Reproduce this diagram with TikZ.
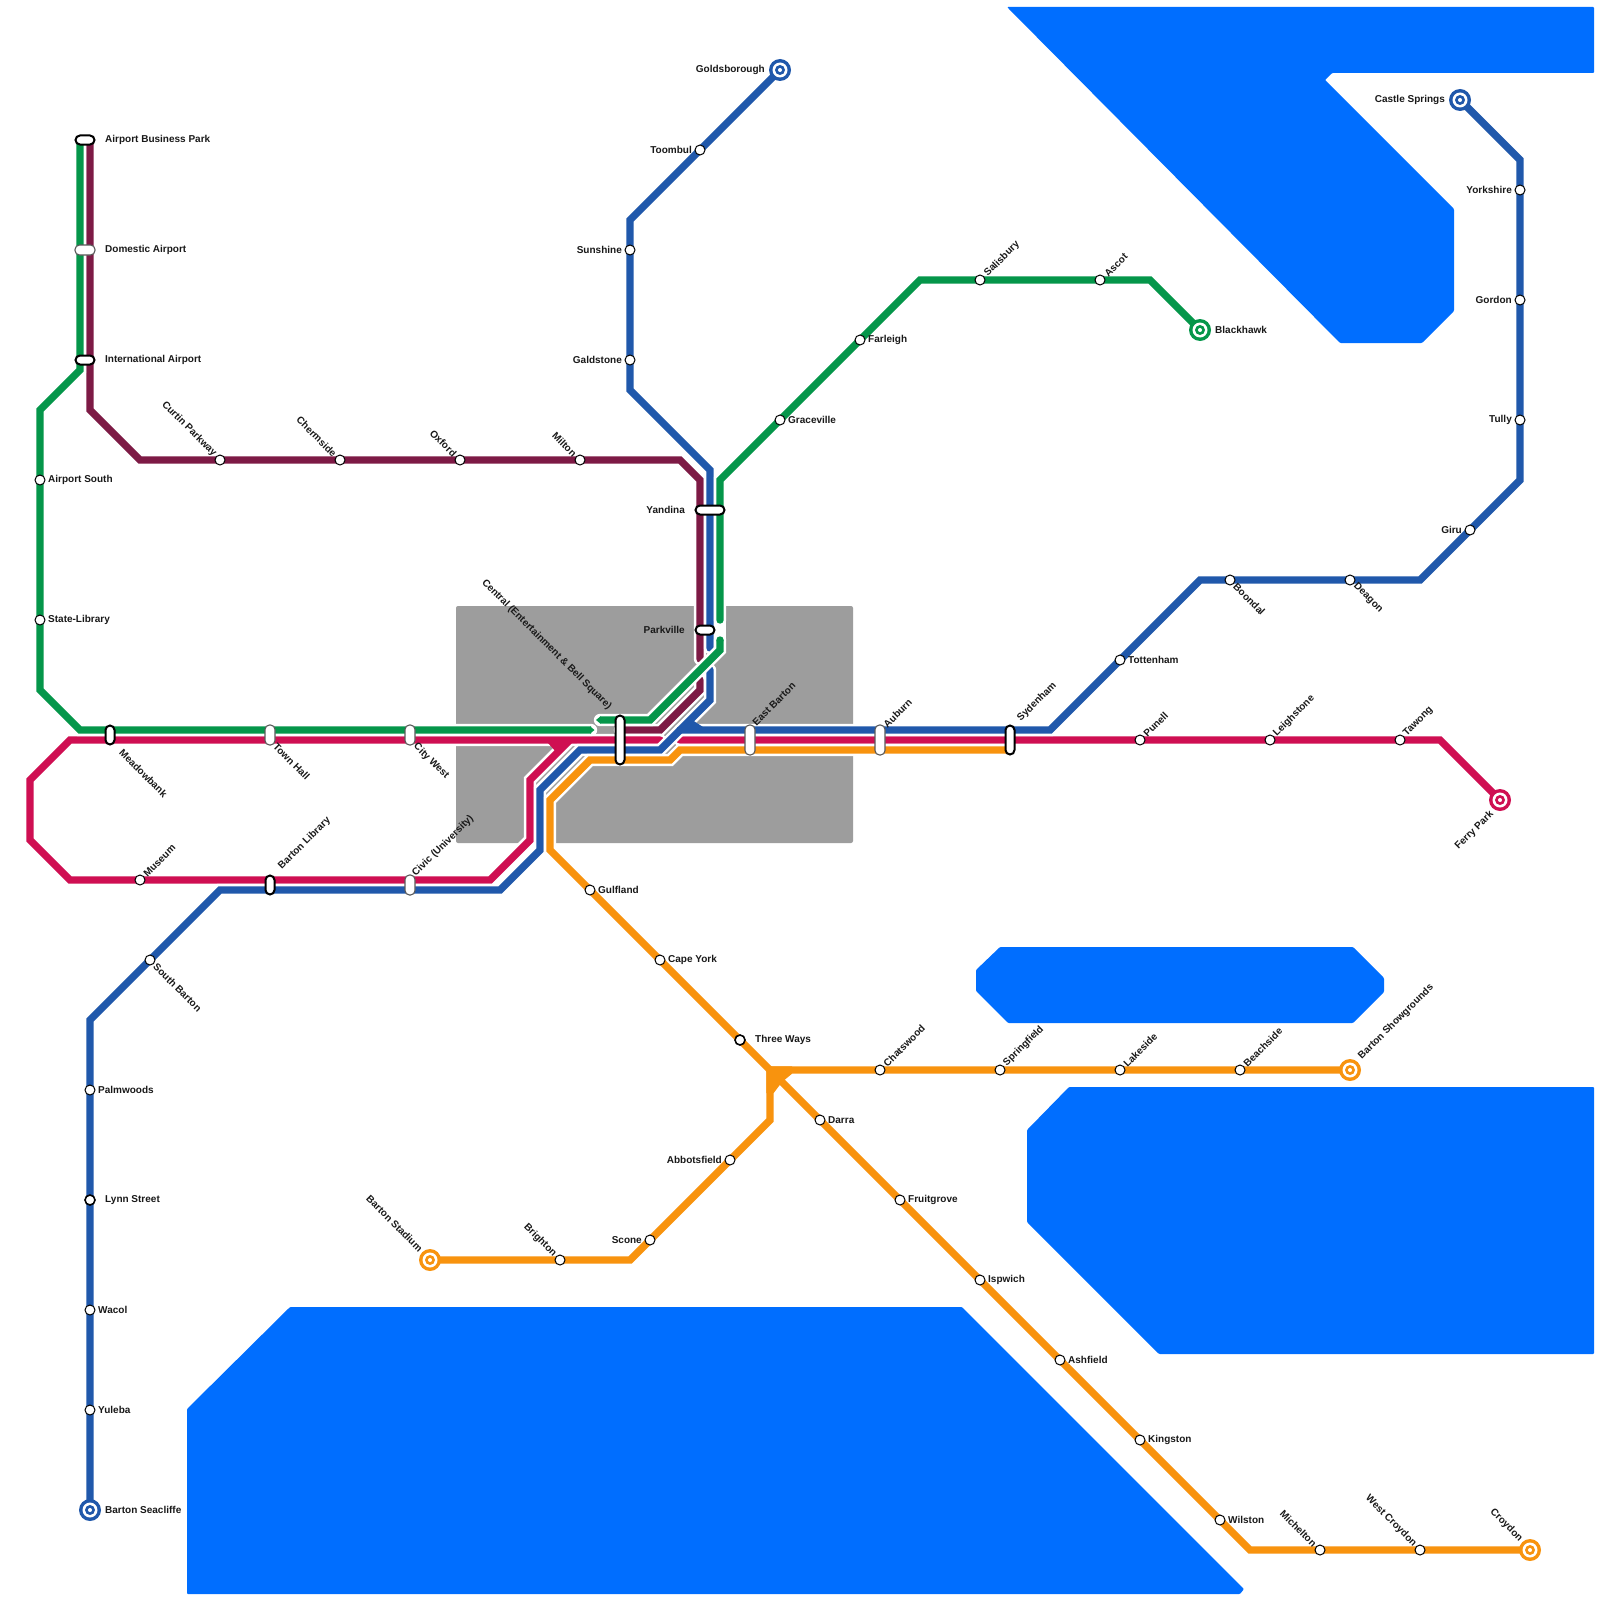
\documentclass[tikz,border=0pt]{standalone}
\usepackage{fontspec}
\setmainfont{Liberation Sans}
\definecolor{cgreen}{HTML}{05964A}
\definecolor{cpurple}{HTML}{7D1A45}
\definecolor{cblue}{HTML}{2058AB}
\definecolor{ccrim}{HTML}{CF0F52}
\definecolor{corange}{HTML}{F8930E}
\definecolor{cwater}{HTML}{006EFF}
\definecolor{cgrey}{HTML}{9D9D9D}
\tikzset{
  mcol/.style={draw=#1,line width=7.4pt,line cap=round,line join=miter},
  mcas/.style={draw=white,line width=12.4pt,line cap=round,line join=miter},
  mline/.style={mcol=#1,preaction={mcas}},
  water/.style={fill=cwater,rounded corners=1pt},
  stop/.style={circle,draw=black,fill=white,line width=1pt,minimum size=10pt,inner sep=0pt},
  stopb/.style={circle,draw=black,fill=white,line width=1.6pt,minimum size=10pt,inner sep=0pt},
  capb/.style={rectangle,draw=black,fill=white,line width=2pt,rounded corners=4.5pt,inner sep=0pt},
  capl/.style={rectangle,draw=black!65,fill=white,line width=1.1pt,rounded corners=4.5pt,inner sep=0pt},
  lbl/.style={font=\bfseries\fontsize{10}{12}\selectfont,inner sep=0pt,text=black!90},
  lr/.style={anchor=west},
  ll/.style={anchor=east},
  lur/.style={rotate=45,anchor=west},
  ldr/.style={rotate=-45,anchor=west},
  lul/.style={rotate=-45,anchor=east},
  ldl/.style={rotate=45,anchor=east},
}
% station: name, position
\newcommand{\stn}[2]{\node[stop] (#1) at (#2) {};}
\newcommand{\stb}[2]{\node[stopb] (#1) at (#2) {};}
% capsule: name, position, style, width, height
\newcommand{\cps}[5]{\node[#3,minimum width=#4pt,minimum height=#5pt] (#1) at (#2) {};}
% terminus ring: name (coordinate already defined), colour
\newcommand{\term}[2]{%
  \node[circle,fill=#2,minimum size=22pt,inner sep=0pt] (#1-o) at (#1) {};
  \node[circle,fill=white,minimum size=15pt,inner sep=0pt] (#1-w) at (#1) {};
  \node[circle,fill=#2,minimum size=10pt,inner sep=0pt] (#1-c) at (#1) {};
  \node[circle,fill=white,minimum size=4pt,inner sep=0pt] (#1-d) at (#1) {};}
% label: station, dx, dy, style, text
\newcommand{\lab}[5]{\path (#1) ++(#2,#3) node[lbl,#4] (#1-l) {#5};}
\begin{document}
\begin{tikzpicture}[x=1pt,y=-1pt]
\useasboundingbox (0,0) rectangle (1600,1600);
\fill[white] (0,0) rectangle (1600,1600);
% water
\fill[water] (1007,7) -- (1594,7) -- (1594,73) -- (1332,73) -- (1325,80) -- (1454,209) -- (1454,311) -- (1422,343) -- (1340,343) -- cycle;
\fill[water] (1000,947) -- (1353,947) -- (1384,978) -- (1384,992) -- (1353,1023) -- (1008,1023) -- (976,991) -- (976,970) -- cycle;
\fill[water] (1069,1087) -- (1594,1087) -- (1594,1354) -- (1159,1354) -- (1027,1222) -- (1027,1130) -- cycle;
\fill[water] (290,1307) -- (962,1307) -- (1244,1589) -- (1240,1594) -- (187,1594) -- (187,1409) -- cycle;
% built-up area
\fill[cgrey,rounded corners=2pt] (456,606) rectangle (853,843);
% named ends and bends
\coordinate (goldsborough) at (780,70);
\coordinate (seacliffe) at (90,1510);
\coordinate (castle) at (1460,100);
\coordinate (blackhawk) at (1200,330);
\coordinate (ferry) at (1500,800);
\coordinate (bstadium) at (430,1260);
\coordinate (bshow) at (1350,1070);
\coordinate (croydon) at (1530,1550);
\coordinate (tway) at (770,1070);
% purple
\draw[mline=cpurple] (90,140) -- (90,410) -- (140,460) -- (680,460) -- (700,480) -- (700,659);
\draw[mline=cpurple] (700,680) -- (700,690) -- (660,730) -- (620,730);
% crimson
\draw[mcas] (660,740) -- (70,740) -- (30,780) -- (30,840) -- (70,880) -- (490,880) -- (530,840) -- (530,780) -- (570,740);
\draw[mcol=ccrim] (660,740) -- (70,740) -- (30,780) -- (30,840) -- (70,880) -- (490,880) -- (530,840) -- (530,780) -- (570,740);
\fill[ccrim] (548,743) -- (556,752) -- (572,743) -- cycle;
\draw[mline=ccrim] (ferry) -- (1440,740) -- (680,740);
% blue
\draw[mcas] (goldsborough) -- (630,220) -- (630,390) -- (710,470) -- (710,648);
\draw[mcas] (710,670) -- (710,700) -- (660,750) -- (580,750) -- (540,790) -- (540,850) -- (500,890) -- (220,890) -- (90,1020) -- (seacliffe);
\draw[mcas] (castle) -- (1520,160) -- (1520,480) -- (1420,580) -- (1200,580) -- (1050,730) -- (680,730);
\draw[mcol=cblue] (goldsborough) -- (630,220) -- (630,390) -- (710,470) -- (710,648);
\draw[mcol=cblue] (710,670) -- (710,700) -- (660,750) -- (580,750) -- (540,790) -- (540,850) -- (500,890) -- (220,890) -- (90,1020) -- (seacliffe);
\draw[mcol=cblue] (castle) -- (1520,160) -- (1520,480) -- (1420,580) -- (1200,580) -- (1050,730) -- (680,730);
\fill[cblue] (693,720.5) -- (703,727) -- (685,731) -- cycle;
% orange
\draw[mcas] (croydon) -- (1250,1550) -- (550,850) -- (550,800) -- (590,760) -- (670,760) -- (680,750) -- (1010,750);
\draw[mcas] (bstadium) -- (630,1260) -- (770,1120) -- (tway) -- (bshow);
\draw[mcol=corange] (croydon) -- (1250,1550) -- (550,850) -- (550,800) -- (590,760) -- (670,760) -- (680,750) -- (1010,750);
\draw[mcol=corange] (bstadium) -- (630,1260) -- (770,1120) -- (tway) -- (bshow);
\fill[corange] (766.3,1066.3) -- (792,1066.3) -- (792,1073.7) -- (782,1082) -- (773.7,1093) -- (766.3,1093) -- cycle;
% green
\draw[white,line width=12.4pt] (720,620) -- (720,640);
\draw[mline=cgreen,line cap=butt] (80,140) -- (80,370) -- (40,410) -- (40,690) -- (80,730) -- (591,730);
\fill[cgreen] (590,726.3) -- (594.5,730) -- (590,733.7) -- cycle;
\draw[mline=cgreen,line cap=butt] (600,720) -- (650,720) -- (720,650) -- (720,640);
\fill[cgreen] (600.5,716.3) -- (596,720) -- (600.5,723.7) -- cycle;
\fill[cgreen] (720,640) circle (3.7);
\draw[mline=cgreen] (720,620) -- (720,480) -- (920,280) -- (1150,280) -- (blackhawk);
% termini
\term{goldsborough}{cblue}
\term{seacliffe}{cblue}
\term{castle}{cblue}
\term{blackhawk}{cgreen}
\term{ferry}{ccrim}
\term{bstadium}{corange}
\term{bshow}{corange}
\term{croydon}{corange}
\lab{goldsborough}{-15}{0}{ll}{Goldsborough}
\lab{seacliffe}{15}{0}{lr}{Barton Seacliffe}
\lab{castle}{-15}{0}{ll}{Castle Springs}
\lab{blackhawk}{15}{0}{lr}{Blackhawk}
\lab{ferry}{-8}{13}{ldl}{Ferry Park}
\lab{bstadium}{-9}{-10}{lul}{Barton Stadium}
\lab{bshow}{10}{-12}{lur}{Barton Showgrounds}
\lab{croydon}{-9}{-10}{lul}{Croydon}
% capsules
\cps{abpn}{85,140}{capb}{19}{9}\lab{abpn}{20}{0}{lr}{Airport Business Park}
\cps{dom}{85,250}{capl}{20}{10}\lab{dom}{20}{0}{lr}{Domestic Airport}
\cps{intl}{85,360}{capb}{19}{9}\lab{intl}{20}{0}{lr}{International Airport}
\cps{mead}{110,735}{capb}{9}{19}\lab{mead}{11}{16}{ldr}{Meadowbank}
\cps{town}{270,735}{capl}{10}{20}\lab{town}{5}{10}{ldr}{Town Hall}
\cps{city}{410,735}{capl}{10}{20}\lab{city}{5}{10}{ldr}{City West}
\cps{blib}{270,885}{capb}{9}{19}\lab{blib}{10}{-17}{lur}{Barton Library}
\cps{civic}{410,885}{capl}{10}{20}\lab{civic}{4}{-10}{lur}{Civic (University)}
\cps{central}{620,740}{capb}{9}{49}\lab{central}{-10}{-32}{lul}{Central (Entertainment \& Bell Square)}
\cps{ebar}{750,740}{capl}{10}{30}\lab{ebar}{4}{-16}{lur}{East Barton}
\cps{aub}{880,740}{capl}{10}{30}\lab{aub}{5}{-14}{lur}{Auburn}
\cps{sydn}{1010,740}{capb}{9}{29}\lab{sydn}{9}{-20}{lur}{Sydenham}
\cps{yan}{710,510}{capb}{29}{9}\lab{yan}{-25}{0}{ll}{Yandina}
\cps{park}{705,630}{capb}{19}{9}\lab{park}{-20}{0}{ll}{Parkville}
% green stations
\stn{asouth}{40,480}\lab{asouth}{8}{0}{lr}{Airport South}
\stn{slib}{40,620}\lab{slib}{8}{0}{lr}{State-Library}
\stn{grace}{780,420}\lab{grace}{8}{0}{lr}{Graceville}
\stn{far}{860,340}\lab{far}{8}{0}{lr}{Farleigh}
\stn{sal}{980,280}\lab{sal}{6}{-5}{lur}{Salisbury}
\stn{asc}{1100,280}\lab{asc}{6}{-5}{lur}{Ascot}
% purple stations
\stn{curtin}{220,460}\lab{curtin}{-5}{-5}{lul}{Curtin Parkway}
\stn{cherm}{340,460}\lab{cherm}{-5}{-5}{lul}{Chermside}
\stn{oxf}{460,460}\lab{oxf}{-5}{-5}{lul}{Oxford}
\stn{milt}{580,460}\lab{milt}{-5}{-5}{lul}{Milton}
% blue stations
\stn{toom}{700,150}\lab{toom}{-8}{0}{ll}{Toombul}
\stn{sun}{630,250}\lab{sun}{-8}{0}{ll}{Sunshine}
\stn{gald}{630,360}\lab{gald}{-8}{0}{ll}{Galdstone}
\stn{sbar}{150,960}\lab{sbar}{5}{5}{ldr}{South Barton}
\stn{palm}{90,1090}\lab{palm}{8}{0}{lr}{Palmwoods}
\stb{lynn}{90,1200}\lab{lynn}{15}{0}{lr}{Lynn Street}
\stn{wac}{90,1310}\lab{wac}{8}{0}{lr}{Wacol}
\stn{yul}{90,1410}\lab{yul}{8}{0}{lr}{Yuleba}
\stn{york}{1520,190}\lab{york}{-8}{0}{ll}{Yorkshire}
\stn{gord}{1520,300}\lab{gord}{-8}{0}{ll}{Gordon}
\stn{tul}{1520,420}\lab{tul}{-8}{0}{ll}{Tully}
\stn{giru}{1470,530}\lab{giru}{-8}{0}{ll}{Giru}
\stn{deag}{1350,580}\lab{deag}{5}{5}{ldr}{Deagon}
\stn{boon}{1230,580}\lab{boon}{5}{5}{ldr}{Boondal}
\stn{tott}{1120,660}\lab{tott}{8}{0}{lr}{Tottenham}
% crimson stations
\stn{pun}{1140,740}\lab{pun}{5}{-5}{lur}{Punell}
\stn{leigh}{1270,740}\lab{leigh}{5}{-5}{lur}{Leighstone}
\stn{taw}{1400,740}\lab{taw}{5}{-5}{lur}{Tawong}
\stn{mus}{140,880}\lab{mus}{5}{-5}{lur}{Museum}
% orange stations
\stn{gulf}{590,890}\lab{gulf}{8}{0}{lr}{Gulfland}
\stn{cape}{660,960}\lab{cape}{8}{0}{lr}{Cape York}
\stb{three}{740,1040}\lab{three}{15}{0}{lr}{Three Ways}
\stn{darra}{820,1120}\lab{darra}{8}{0}{lr}{Darra}
\stn{fruit}{900,1200}\lab{fruit}{8}{0}{lr}{Fruitgrove}
\stn{ips}{980,1280}\lab{ips}{8}{0}{lr}{Ispwich}
\stn{ash}{1060,1360}\lab{ash}{8}{0}{lr}{Ashfield}
\stn{king}{1140,1440}\lab{king}{8}{0}{lr}{Kingston}
\stn{wil}{1220,1520}\lab{wil}{8}{0}{lr}{Wilston}
\stn{mich}{1320,1550}\lab{mich}{-5}{-5}{lul}{Michelton}
\stn{wcroy}{1420,1550}\lab{wcroy}{-5}{-5}{lul}{West Croydon}
\stn{chat}{880,1070}\lab{chat}{5}{-5}{lur}{Chatswood}
\stn{spring}{1000,1070}\lab{spring}{5}{-5}{lur}{Springfield}
\stn{lake}{1120,1070}\lab{lake}{5}{-5}{lur}{Lakeside}
\stn{beach}{1240,1070}\lab{beach}{5}{-5}{lur}{Beachside}
\stn{abb}{730,1160}\lab{abb}{-8}{0}{ll}{Abbotsfield}
\stn{scone}{650,1240}\lab{scone}{-8}{0}{ll}{Scone}
\stn{brig}{560,1260}\lab{brig}{-5}{-5}{lul}{Brighton}
\end{tikzpicture}
\end{document}
